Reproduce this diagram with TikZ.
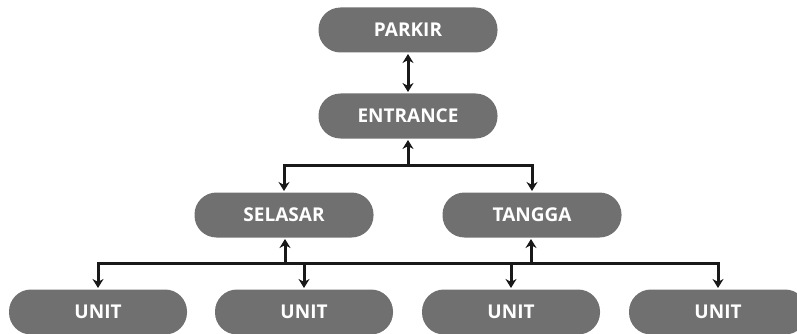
\documentclass[tikz,border=0pt]{standalone}
\usepackage{fontspec}
\setmainfont{Open Sans}
\usetikzlibrary{arrows.meta}

\begin{document}
\begin{tikzpicture}[x=1pt, y=-1pt, line width=3pt,
  box/.style={fill=black!56, text=white, rounded corners=22pt,
    minimum width=179pt, minimum height=45pt, inner sep=0pt,
    font=\fontsize{19}{22}\selectfont\bfseries},
  arr/.style={-{Stealth[length=9pt, width=11pt]}, black!90}]

  \useasboundingbox (0,0) rectangle (797,334);

  % Top: parking and entrance
  \node[box] (parkir) at (408,30) {PARKIR};
  \node[box] (entrance) at (408,116) {ENTRANCE};
  \draw[{Stealth[length=9pt, width=11pt]}-{Stealth[length=9pt, width=11pt]}, black!90]
    (parkir) -- (entrance);

  % Middle: corridor and stairs
  \node[box] (selasar) at (284,215) {SELASAR};
  \node[box] (tangga) at (532,215) {TANGGA};
  \coordinate (jtop) at (408,165);
  \draw[arr] (jtop) -- (entrance);
  \draw[arr] (jtop) -| (selasar.north);
  \draw[arr] (jtop) -| (tangga.north);

  % Bottom: units (cut by the page edge)
  \node[box, minimum width=178pt] (unit1) at (98,312) {UNIT};
  \node[box, minimum width=178pt] (unit2) at (304,312) {UNIT};
  \node[box, minimum width=178pt] (unit3) at (511,312) {UNIT};
  \node[box, minimum width=178pt] (unit4) at (718,312) {UNIT};
  \coordinate (jleft) at (285,263);
  \coordinate (jright) at (531,263);
  \draw[black!90] (jleft) -- (jright);
  \draw[arr] (jleft) -- (selasar.south -| jleft);
  \draw[arr] (jright) -- (tangga.south -| jright);
  \draw[arr] (jleft) -| (unit1.north);
  \draw[arr] (jleft) -| (unit2.north);
  \draw[arr] (jright) -| (unit3.north);
  \draw[arr] (jright) -| (unit4.north);

\end{tikzpicture}
\end{document}
